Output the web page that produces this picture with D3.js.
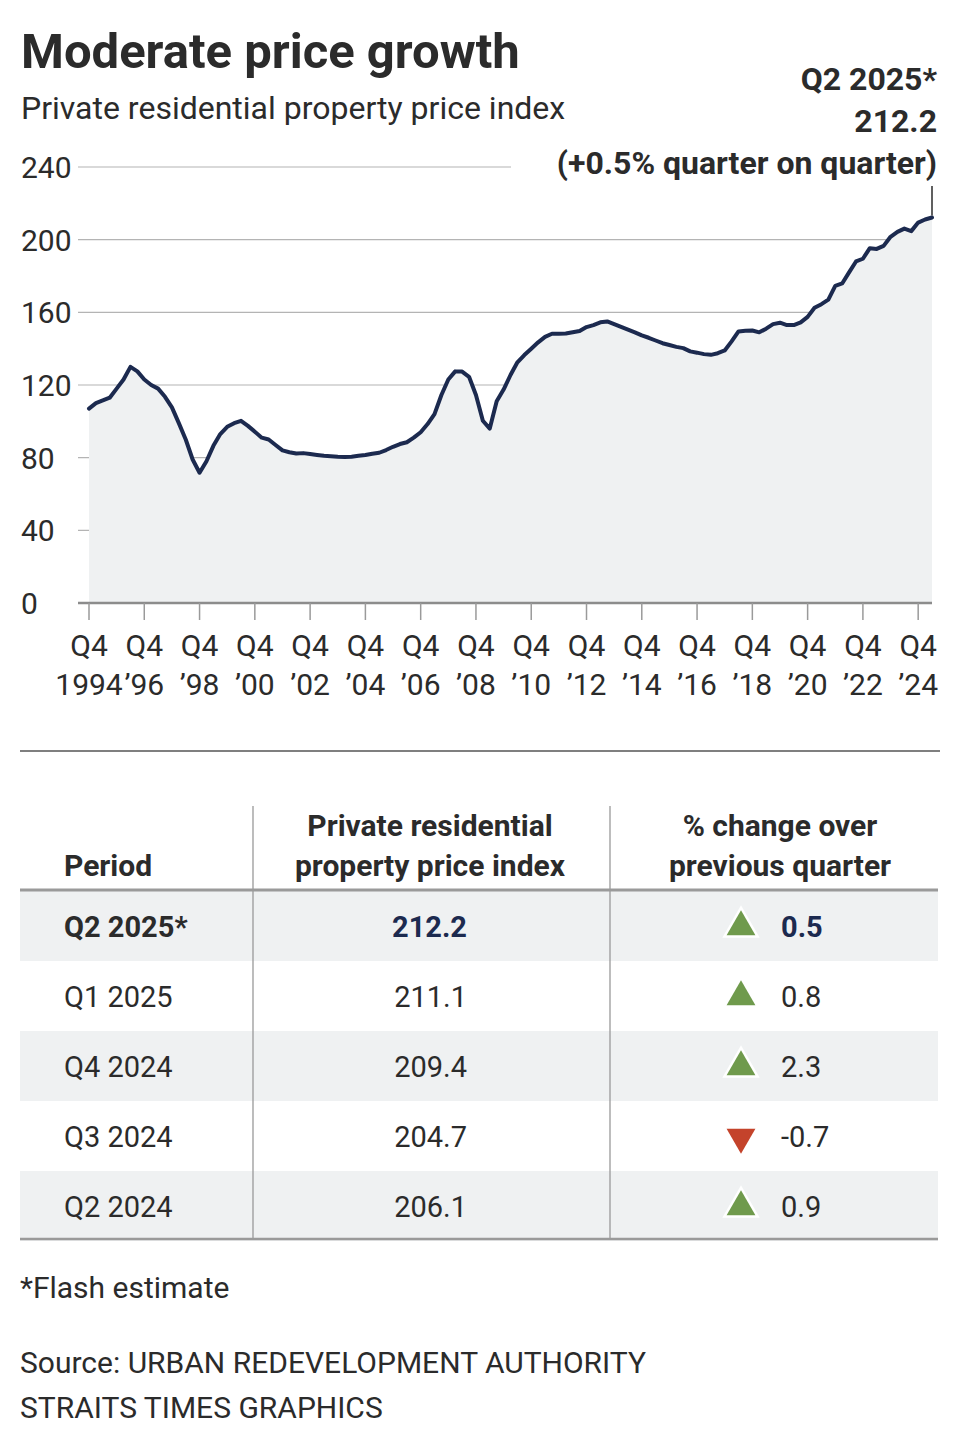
<!DOCTYPE html>
<html>
<head>
<meta charset="utf-8">
<script src="https://cdn.jsdelivr.net/npm/d3@7"></script>
<style>
  body { margin: 0; background: #fff; }
  svg { display: block; }
  text { font-family: Roboto, "Liberation Sans", sans-serif; }
</style>
</head>
<body>
<svg id="chart" width="960" height="1450"></svg>
<script>
// ─── Data ─────────────────────────────────────────────────────────────────────

// quarterly index, Q4 1994 .. Q2 2025
const INDEX_VALUES = [
  107, 110, 111.5, 113, 118, 123, 130, 127.5, 123, 120,
  118, 113.5, 107.7, 99, 90, 79, 71.7, 78, 86.5, 93,
  97, 99, 100.3, 97.5, 94.3, 91, 90, 87, 84, 83,
  82.3, 82.5, 82, 81.5, 81, 80.8, 80.5, 80.3, 80.5, 81,
  81.5, 82.2, 82.7, 84.2, 86, 87.5, 88.5, 91, 94, 98.5,
  104, 114.5, 123, 127.5, 127.4, 124.5, 114.5, 100.3, 96, 111,
  117.5, 125.5, 132.5, 136.5, 140, 143.5, 146.5, 148.2, 148.2, 148.3,
  149, 149.7, 151.9, 153, 154.5, 155, 153.5, 152, 150.5, 149,
  147.3, 146, 144.5, 143, 142, 141, 140.3, 138.5, 137.8, 137,
  136.6, 137.5, 139, 144, 149.5, 149.8, 150, 149, 151, 153.5,
  154.3, 153, 153, 154.5, 157.5, 162.5, 164.5, 167, 174.6, 175.9,
  182, 188, 189.5, 195.3, 194.9, 196.6, 201.6, 204.3, 206.1, 204.7,
  209.4, 211.1, 212.2
];

const Y_TICKS      = [0, 40, 80, 120, 160, 200, 240];
const X_TICK_TOP   = ["Q4", "Q4", "Q4", "Q4", "Q4", "Q4", "Q4", "Q4", "Q4", "Q4", "Q4", "Q4", "Q4", "Q4", "Q4", "Q4"];
const X_TICK_BOT   = ["1994", "’96", "’98", "’00", "’02", "’04", "’06", "’08", "’10", "’12", "’14", "’16", "’18", "’20", "’22", "’24"];

const ANNOTATION   = ["Q2 2025*", "212.2", "(+0.5% quarter on quarter)"];

const TABLE_PERIODS = ["Q2 2025*", "Q1 2025", "Q4 2024", "Q3 2024", "Q2 2024"];
const TABLE_INDEX   = [212.2, 211.1, 209.4, 204.7, 206.1];
const TABLE_CHANGE  = [0.5, 0.8, 2.3, -0.7, 0.9];

// ─── Colours ──────────────────────────────────────────────────────────────────

const INK   = "#2b2b2b";
const NAVY  = "#1c2a4f";
const GRID  = "#b4b4b4";
const SHADE = "#eff1f2";
const UP    = "#6f9a4c";
const DOWN  = "#c4432b";

const svg = d3.select("#chart");

// ─── Header ───────────────────────────────────────────────────────────────────

svg.append("text").attr("x", 21).attr("y", 68)
  .attr("font-size", 49).attr("font-weight", 700).attr("fill", INK)
  .text("Moderate price growth");

svg.append("text").attr("x", 21).attr("y", 119)
  .attr("font-size", 32).attr("fill", INK)
  .text("Private residential property price index");

// ─── Line chart ───────────────────────────────────────────────────────────────

const x = d3.scaleLinear().domain([0, INDEX_VALUES.length - 1]).range([89, 932]);
const y = d3.scaleLinear().domain([0, 240]).range([603, 167]);

// gridlines (top one stops short of the annotation)
svg.append("g").selectAll("line")
  .data(Y_TICKS.filter(t => t > 0))
  .join("line")
  .attr("x1", 78).attr("x2", t => t === 240 ? 511 : 932)
  .attr("y1", t => y(t)).attr("y2", t => y(t))
  .attr("stroke", GRID).attr("stroke-width", 1.2);

svg.append("g").selectAll("text")
  .data(Y_TICKS)
  .join("text")
  .attr("x", 21).attr("y", t => y(t) + 11)
  .attr("font-size", 30).attr("fill", INK)
  .text(t => t);

const area = d3.area()
  .x((d, i) => x(i)).y0(y(0)).y1(d => y(d));
const line = d3.line()
  .x((d, i) => x(i)).y(d => y(d));

svg.append("path").datum(INDEX_VALUES)
  .attr("d", area).attr("fill", SHADE);

// baseline + ticks
svg.append("line")
  .attr("x1", 78).attr("x2", 932).attr("y1", y(0)).attr("y2", y(0))
  .attr("stroke", "#8c8c8c").attr("stroke-width", 2.5);

const tickIdx = X_TICK_BOT.map((_, k) => k * 8);

const xt = svg.append("g").selectAll("g")
  .data(tickIdx)
  .join("g")
  .attr("transform", d => `translate(${x(d)},0)`);

xt.append("line").attr("y1", y(0)).attr("y2", y(0) + 17)
  .attr("stroke", "#9a9a9a").attr("stroke-width", 1.5);
xt.append("text").attr("y", 656).attr("text-anchor", "middle")
  .attr("font-size", 30).attr("fill", INK)
  .text((d, k) => X_TICK_TOP[k]);
xt.append("text").attr("y", 695).attr("text-anchor", "middle")
  .attr("font-size", 30).attr("fill", INK)
  .text((d, k) => X_TICK_BOT[k]);

svg.append("path").datum(INDEX_VALUES)
  .attr("d", line).attr("fill", "none")
  .attr("stroke", NAVY).attr("stroke-width", 4)
  .attr("stroke-linejoin", "round").attr("stroke-linecap", "round");

// annotation for latest quarter
const last = INDEX_VALUES.length - 1;
svg.append("line")
  .attr("x1", x(last)).attr("x2", x(last))
  .attr("y1", 186).attr("y2", y(INDEX_VALUES[last]) - 2)
  .attr("stroke", INK).attr("stroke-width", 1.5);

svg.append("g").selectAll("text")
  .data(ANNOTATION)
  .join("text")
  .attr("x", 937).attr("y", (d, i) => 90 + i * 42)
  .attr("text-anchor", "end")
  .attr("font-size", 32).attr("font-weight", 700).attr("fill", INK)
  .text(d => d);

// ─── Table ────────────────────────────────────────────────────────────────────

svg.append("line").attr("x1", 20).attr("x2", 940).attr("y1", 751).attr("y2", 751)
  .attr("stroke", "#555").attr("stroke-width", 1.5);

const ROW_H   = 70;
const ROW_TOP = 891;

const rows = svg.append("g").selectAll("g")
  .data(TABLE_PERIODS.map((p, i) => ({ period: p, index: TABLE_INDEX[i], change: TABLE_CHANGE[i], i })))
  .join("g")
  .attr("transform", d => `translate(0,${ROW_TOP + d.i * ROW_H})`);

rows.append("rect")
  .attr("x", 20).attr("width", 918).attr("height", ROW_H)
  .attr("fill", d => d.i % 2 === 0 ? SHADE : "#fff");

// column dividers
[253, 610].forEach(cx => {
  svg.append("line").attr("x1", cx).attr("x2", cx).attr("y1", 806).attr("y2", 1238)
    .attr("stroke", "#999").attr("stroke-width", 1.3);
});

// header
const head = svg.append("g").attr("font-size", 30).attr("font-weight", 700).attr("fill", INK);
head.append("text").attr("x", 64).attr("y", 876).text("Period");
head.append("text").attr("x", 430).attr("y", 836).attr("text-anchor", "middle").text("Private residential");
head.append("text").attr("x", 430).attr("y", 876).attr("text-anchor", "middle").text("property price index");
head.append("text").attr("x", 780).attr("y", 836).attr("text-anchor", "middle").text("% change over");
head.append("text").attr("x", 780).attr("y", 876).attr("text-anchor", "middle").text("previous quarter");

svg.append("line").attr("x1", 20).attr("x2", 938).attr("y1", 890).attr("y2", 890)
  .attr("stroke", "#9a9a9a").attr("stroke-width", 3);
svg.append("line").attr("x1", 20).attr("x2", 938).attr("y1", 1239).attr("y2", 1239)
  .attr("stroke", "#9a9a9a").attr("stroke-width", 2.5);

const cellY = ROW_H / 2 + 11;

rows.append("text")
  .attr("x", 64).attr("y", cellY)
  .attr("font-size", 29).attr("font-weight", d => d.i === 0 ? 700 : 400)
  .attr("fill", INK)
  .text(d => d.period);

rows.append("text")
  .attr("x", 467).attr("y", cellY).attr("text-anchor", "end")
  .attr("font-size", 29).attr("font-weight", d => d.i === 0 ? 700 : 400)
  .attr("fill", d => d.i === 0 ? NAVY : INK)
  .text(d => d.index.toFixed(1));

const tri = d3.symbol().type(d3.symbolTriangle).size(360);
rows.append("path")
  .attr("d", tri)
  .attr("transform", d => `translate(741,${ROW_H / 2 + 1}) rotate(${d.change < 0 ? 180 : 0})`)
  .attr("fill", d => d.change < 0 ? DOWN : UP)
  .attr("stroke", d => d.change < 0 ? "none" : "#fff")
  .attr("stroke-width", 5).attr("paint-order", "stroke");

rows.append("text")
  .attr("x", 781).attr("y", cellY)
  .attr("font-size", 29).attr("font-weight", d => d.i === 0 ? 700 : 400)
  .attr("fill", d => d.i === 0 ? NAVY : INK)
  .text(d => d.change.toFixed(1));

// ─── Footer ───────────────────────────────────────────────────────────────────

svg.append("text").attr("x", 20).attr("y", 1298)
  .attr("font-size", 30).attr("fill", INK).text("*Flash estimate");
svg.append("text").attr("x", 20).attr("y", 1373)
  .attr("font-size", 30).attr("fill", INK).text("Source: URBAN REDEVELOPMENT AUTHORITY");
svg.append("text").attr("x", 20).attr("y", 1418)
  .attr("font-size", 30).attr("fill", INK).text("STRAITS TIMES GRAPHICS");
</script>
</body>
</html>
